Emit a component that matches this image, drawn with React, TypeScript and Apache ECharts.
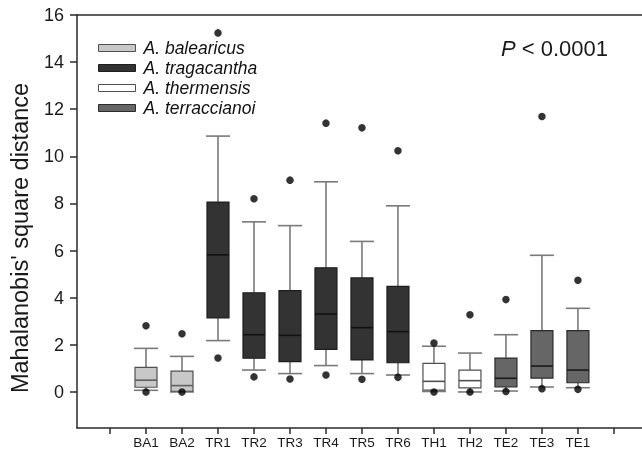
import React, { useEffect, useRef } from "react";
import * as echarts from "echarts";

const categories = ["BA1", "BA2", "TR1", "TR2", "TR3", "TR4", "TR5", "TR6", "TH1", "TH2", "TE2", "TE3", "TE1"];
const speciesNames = ["A. balearicus", "A. tragacantha", "A. thermensis", "A. terraccianoi"];
const speciesOf = [0, 0, 1, 1, 1, 1, 1, 1, 2, 2, 3, 3, 3];
const whiskerLow = [0.07, 0.0, 2.18, 0.93, 0.78, 1.12, 0.78, 0.72, 0.02, 0.0, 0.04, 0.21, 0.18];
const q1 = [0.2, 0.03, 3.14, 1.43, 1.29, 1.81, 1.36, 1.24, 0.08, 0.17, 0.21, 0.59, 0.39];
const median = [0.5, 0.27, 5.82, 2.43, 2.4, 3.31, 2.73, 2.56, 0.45, 0.48, 0.58, 1.1, 0.93];
const q3 = [1.04, 0.88, 8.06, 4.21, 4.3, 5.27, 4.84, 4.48, 1.21, 0.93, 1.44, 2.6, 2.6];
const whiskerHigh = [1.85, 1.51, 10.86, 7.22, 7.06, 8.92, 6.39, 7.9, 1.94, 1.65, 2.43, 5.8, 3.55];
const outlierHigh = [2.81, 2.47, 15.24, 8.2, 8.99, 11.41, 11.21, 10.24, 2.08, 3.28, 3.92, 11.69, 4.74];
const outlierLow = [0.0, 0.0, 1.44, 0.64, 0.55, 0.72, 0.54, 0.62, 0.0, 0.0, 0.02, 0.14, 0.11];
const yTicks = [0, 2, 4, 6, 8, 10, 12, 14, 16];
const yTitle = "Mahalanobis' square distance";

const fills = ["#c8c8c8", "#333333", "#ffffff", "#666666"];
const borders = ["#505050", "#1e1e1e", "#505050", "#2a2a2a"];
const medianColors = ["#606060", "#111111", "#505050", "#1a1a1a"];
const FONT = "'Liberation Sans', Arial, Helvetica, sans-serif";

export default function App() {
  const ref = useRef<HTMLDivElement>(null);
  useEffect(() => {
    if (!ref.current) return;
    const chart = echarts.init(ref.current, null, { renderer: "svg" });
    const positions = categories.map((_, i) => i + 1);

    const boxSeries = speciesNames.map((name, s) => {
      const data: number[][] = [];
      categories.forEach((_, i) => {
        if (speciesOf[i] === s) {
          data.push([positions[i], whiskerLow[i], q1[i], median[i], q3[i], whiskerHigh[i]]);
        }
      });
      return {
        type: "custom",
        name,
        itemStyle: { color: fills[s], borderColor: borders[s], borderWidth: 1 },
        encode: { x: 0, y: [1, 2, 3, 4, 5] },
        data,
        z: 2,
        renderItem: (params: any, api: any) => {
          const x = api.value(0);
          const pMin = api.coord([x, api.value(1)]);
          const pQ1 = api.coord([x, api.value(2)]);
          const pMed = api.coord([x, api.value(3)]);
          const pQ3 = api.coord([x, api.value(4)]);
          const pMax = api.coord([x, api.value(5)]);
          const cx = pMin[0];
          const bw = 22;
          const cw = 24;
          const wStyle = { stroke: "#7a7a7a", lineWidth: 1.6 };
          return {
            type: "group",
            children: [
              { type: "line", shape: { x1: cx, y1: pMax[1], x2: cx, y2: pQ3[1] }, style: wStyle },
              { type: "line", shape: { x1: cx, y1: pQ1[1], x2: cx, y2: pMin[1] }, style: wStyle },
              { type: "line", shape: { x1: cx - cw / 2, y1: pMax[1], x2: cx + cw / 2, y2: pMax[1] }, style: wStyle },
              { type: "line", shape: { x1: cx - cw / 2, y1: pMin[1], x2: cx + cw / 2, y2: pMin[1] }, style: wStyle },
              {
                type: "rect",
                shape: { x: cx - bw / 2, y: pQ3[1], width: bw, height: pQ1[1] - pQ3[1] },
                style: { fill: fills[s], stroke: borders[s], lineWidth: 1.2 },
              },
              {
                type: "line",
                shape: { x1: cx - bw / 2, y1: pMed[1], x2: cx + bw / 2, y2: pMed[1] },
                style: { stroke: medianColors[s], lineWidth: 1.6 },
              },
            ],
          };
        },
      };
    });

    const outlierData: number[][] = [];
    categories.forEach((_, i) => {
      outlierData.push([positions[i], outlierHigh[i]]);
      outlierData.push([positions[i], outlierLow[i]]);
    });

    const tickPositions = [0, ...positions, categories.length + 1];

    chart.setOption({
      animation: false,
      textStyle: { fontFamily: FONT },
      grid: { left: 77, right: 0, top: 15, bottom: 24, containLabel: false, outerBoundsMode: "none" },
      legend: {
        orient: "vertical",
        left: 98,
        top: 39,
        padding: 0,
        itemWidth: 37,
        itemHeight: 7,
        itemGap: 2,
        icon: "rect",
        selectedMode: false,
        textStyle: { fontFamily: FONT, fontSize: 17.5, fontStyle: "italic", color: "#111", padding: [0, 0, 0, 3] },
        data: speciesNames.map((name, s) => ({
          name,
          itemStyle: { color: fills[s], borderColor: borders[s], borderWidth: 1 },
        })),
      },
      xAxis: [
        {
          type: "value",
          min: -0.917,
          max: 14.78,
          splitLine: { show: false },
          axisLine: { show: true, onZero: false, lineStyle: { color: "#2a2a2a", width: 1.5 } },
          axisTick: { show: true, length: 6, customValues: tickPositions, lineStyle: { color: "#2a2a2a", width: 1.5 } },
          axisLabel: {
            customValues: positions,
            formatter: (v: number) => categories[Math.round(v) - 1] ?? "",
            fontSize: 13.5,
            color: "#1a1a1a",
            margin: 7,
            fontFamily: FONT,
          },
        },
        {
          type: "value",
          position: "top",
          min: -0.917,
          max: 14.78,
          splitLine: { show: false },
          axisLine: { show: true, onZero: false, lineStyle: { color: "#2a2a2a", width: 1.5 } },
          axisTick: { show: false },
          axisLabel: { show: false },
        },
      ],
      yAxis: {
        type: "value",
        min: -1.53,
        max: 16,
        splitLine: { show: false },
        axisLine: { show: true, onZero: false, lineStyle: { color: "#2a2a2a", width: 1.5 } },
        axisTick: { show: true, length: 7, customValues: yTicks, lineStyle: { color: "#2a2a2a", width: 1.5 } },
        axisLabel: { customValues: yTicks, fontSize: 18, color: "#1a1a1a", margin: 13, fontFamily: FONT },
      },
      graphic: [
        {
          type: "text",
          x: 20,
          y: 238,
          rotation: Math.PI / 2,
          style: {
            text: yTitle,
            fontSize: 23.5,
            fontFamily: FONT,
            fill: "#1a1a1a",
            align: "center",
            verticalAlign: "middle",
          },
        },
        {
          type: "text",
          left: 501,
          top: 37,
          style: {
            text: "{i|P} < 0.0001",
            fontSize: 22,
            fontFamily: FONT,
            fill: "#1a1a1a",
            rich: { i: { fontStyle: "italic", fontSize: 22, fontFamily: FONT } },
          },
        },
      ],
      series: [
        ...boxSeries,
        {
          type: "scatter",
          name: "outliers",
          symbol: "circle",
          symbolSize: 7.5,
          itemStyle: { color: "#000" },
          data: outlierData,
          z: 5,
        },
      ],
    });
    return () => chart.dispose();
  }, []);
  return <div ref={ref} style={{ position: "fixed", left: 0, top: 0, width: 642, height: 452 }} />;
}
